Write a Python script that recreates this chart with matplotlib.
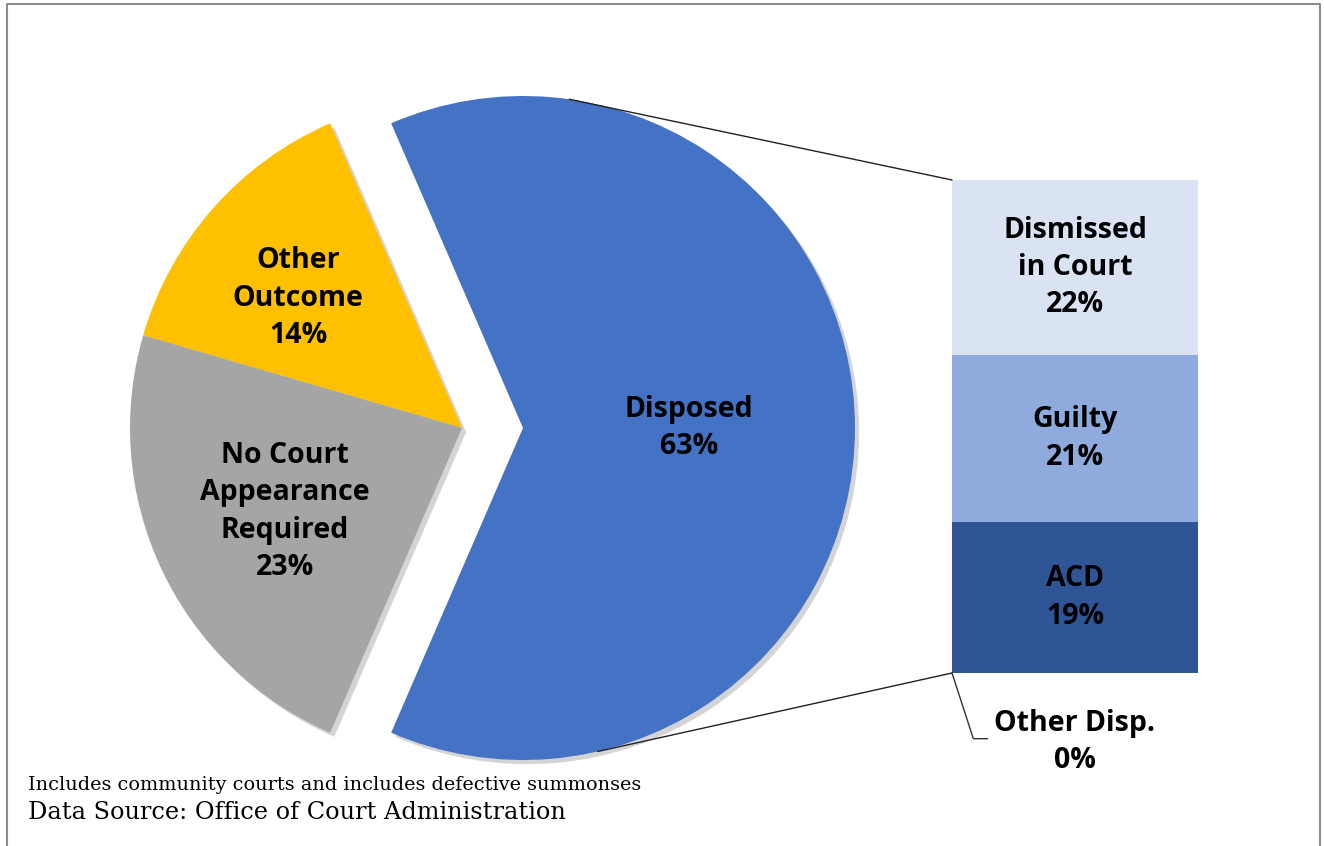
import matplotlib
matplotlib.use("Agg")
import matplotlib.pyplot as plt
import matplotlib.patheffects as pe
from matplotlib.patches import ConnectionPatch
import numpy as np

# Pie: outcome of summonses
pie_labels = ["Disposed", "Other\nOutcome", "No Court\nAppearance\nRequired"]
pie_values = [63, 14, 23]
pie_colors = ["#4472C4", "#FFC000", "#A5A5A5"]

# Bar: breakdown of the disposed slice (top to bottom)
bar_labels = ["Dismissed\nin Court", "Guilty", "ACD", "Other Disp."]
bar_values = [22, 21, 19, 0]
bar_colors = ["#DAE3F3", "#8FAADC", "#2F5597", "#1F3864"]

note_1 = "Includes community courts and includes defective summonses"
note_2 = "Data Source: Office of Court Administration"

W, H = 1324, 846
fig = plt.figure(figsize=(W / 100, H / 100), dpi=100)
ax = fig.add_axes([0, 0, 1, 1])

label_font = dict(family="Open Sans", weight="bold", fontsize=20.5, color="black")
lsp = 1.38
shadow = [pe.SimplePatchShadow(offset=(3, -3), shadow_rgbFace="#666666", alpha=0.28), pe.Normal()]

# pie geometry (pixel coords, y up)
cx, cy, r = 462, 418, 332
explode = [61, 0, 0]
start = -pie_values[0] / sum(pie_values) * 360 / 2
wedges, _ = ax.pie(pie_values, colors=pie_colors, explode=explode, startangle=start,
                   center=(cx, cy), radius=r, counterclock=True,
                   wedgeprops=dict(linewidth=0))
for w in wedges:
    w.set_path_effects(shadow)

# labels inside the slices
label_frac = [0.5, 0.63, 0.59]
label_rot = [0, 3, 0]
for w, lab, v, f, dr in zip(wedges, pie_labels, pie_values, label_frac, label_rot):
    mid = np.deg2rad((w.theta1 + w.theta2) / 2 + dr)
    x0, y0 = w.center
    ax.text(x0 + f * r * np.cos(mid), y0 + f * r * np.sin(mid), f"{lab}\n{v}%",
            ha="center", va="center", linespacing=lsp, **label_font)

ax.set_xlim(0, W)
ax.set_ylim(0, H)
ax.set_aspect("auto")
ax.axis("off")

# stacked bar
bax = fig.add_axes([952 / W, (H - 673) / H, 246 / W, 493 / H])
total = sum(bar_values)
bax.bar(0, total, width=1, color="white", linewidth=0, zorder=0,
        path_effects=shadow)
bottom = 0
mids = []
for lab, v, c in zip(bar_labels[::-1], bar_values[::-1], bar_colors[::-1]):
    bax.bar(0, v, bottom=bottom, width=1, color=c, linewidth=0, zorder=1)
    mids.append(bottom + v / 2)
    bottom += v
mids = mids[::-1]
bax.set_xlim(-0.5, 0.5)
bax.set_ylim(0, total)
bax.axis("off")

for lab, v, m in zip(bar_labels[:-1], bar_values[:-1], mids[:-1]):
    bax.text(0, m, f"{lab}\n{v}%", ha="center", va="center", linespacing=lsp,
             zorder=3, **label_font)

# zero-size category gets a leader line below the bar
bax.annotate(f"{bar_labels[-1]}\n{bar_values[-1]}%", xy=(-0.5, 0), xycoords="data",
             xytext=(0, -69), textcoords=("data", "offset pixels"),
             ha="center", va="center", linespacing=lsp, annotation_clip=False,
             arrowprops=dict(arrowstyle="-", color="#333333", lw=1,
                             connectionstyle="angle,angleA=0,angleB=108,rad=0",
                             shrinkA=3, shrinkB=0, relpos=(0, 0.55)),
             **label_font)

# series lines from the exploded slice to the bar
bx0, by0 = wedges[0].center
for ang, yb in [(82, total), (-77, 0)]:
    a = np.deg2rad(ang)
    con = ConnectionPatch(xyA=(bx0 + r * np.cos(a), by0 + r * np.sin(a)), coordsA=ax.transData,
                          xyB=(-0.5, yb), coordsB=bax.transData, color="#222222", lw=1)
    fig.add_artist(con)

# footnotes
fig.text(28 / W, 1 - 785 / H, note_1, family="DejaVu Serif", fontsize=13.9, va="center")
fig.text(28 / W, 1 - 812 / H, note_2, family="DejaVu Serif", fontsize=17.3, va="center")

# outer border
ax.plot([6.5, 6.5, 1320, 1320], [0, H - 3.5, H - 3.5, 0], color="#8c8c8c", lw=1.5,
        clip_on=False)

fig.savefig("out.png", dpi=100)
